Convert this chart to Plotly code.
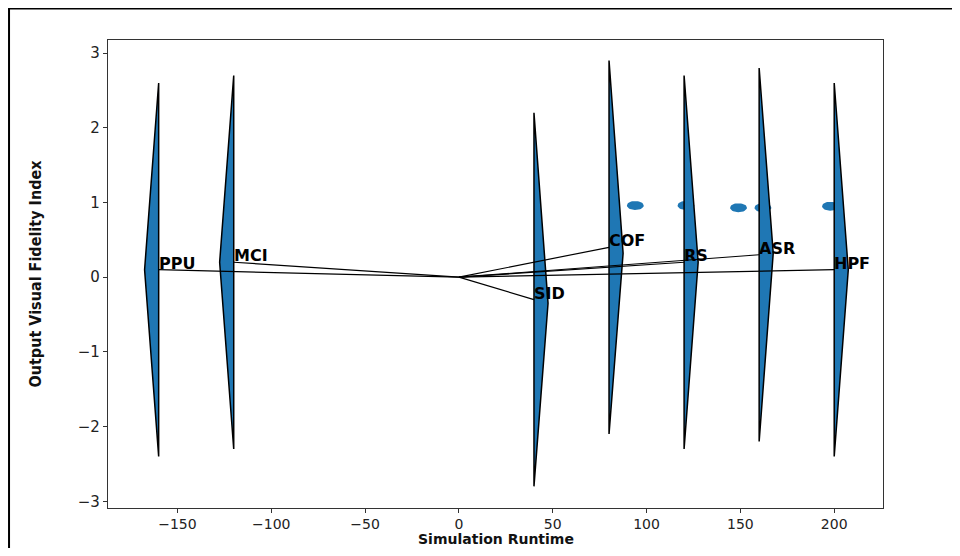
import numpy as np
import plotly.graph_objects as go

# ---- data ----
names = ["PPU", "MCI", "SID", "COF", "RS", "ASR", "HPF"]
runtime = [-160, -120, 40, 80, 120, 160, 200]
fidelity = [0.1, 0.2, -0.3, 0.4, 0.2, 0.3, 0.1]
violin_top = [2.6, 2.7, 2.2, 2.9, 2.7, 2.8, 2.6]
violin_bottom = [-2.4, -2.3, -2.8, -2.1, -2.3, -2.2, -2.4]
violin_peak = [0.1, 0.2, -0.35, 0.32, 0.2, 0.32, 0.1]

dot_x = [94, 121, 149, 162, 198]
dot_y = [0.96, 0.96, 0.93, 0.93, 0.95]

x_ticks = [-150, -100, -50, 0, 50, 100, 150, 200]
y_ticks = [-3, -2, -1, 0, 1, 2, 3]

BLUE = "#1f77b4"
BULGE = 7.5        # half-violin width (style)
DOT_RX, DOT_RY = 4.5, 0.06

fig = go.Figure()

# dots (drawn first, beneath the violins)
t = np.linspace(0, 2 * np.pi, 40)
ex, ey = [], []
for cx, cy in zip(dot_x, dot_y):
    ex += list(cx + DOT_RX * np.cos(t)) + [None]
    ey += list(cy + DOT_RY * np.sin(t)) + [None]
fig.add_trace(go.Scatter(x=ex, y=ey, mode="lines", fill="toself",
                         fillcolor=BLUE, line=dict(width=0, color=BLUE),
                         hoverinfo="skip", showlegend=False))

# half-violin shapes
for x, top, bot, pk in zip(runtime, violin_top, violin_bottom, violin_peak):
    d = -1 if x < 0 else 1
    fig.add_trace(go.Scatter(
        x=[x, x + d * BULGE, x, x], y=[top, pk, bot, top],
        mode="lines", fill="toself", fillcolor=BLUE,
        line=dict(color="black", width=1.5), hoverinfo="skip",
        showlegend=False))

# lines from origin
for x, y in zip(runtime, fidelity):
    fig.add_trace(go.Scatter(x=[0, x], y=[0, y], mode="lines",
                             line=dict(color="black", width=1.2),
                             hoverinfo="skip", showlegend=False))

# labels
for n, x, y in zip(names, runtime, fidelity):
    fig.add_annotation(x=x, y=y, text=n, showarrow=False,
                       xanchor="left", yanchor="bottom", yshift=-5, xshift=-2,
                       font=dict(family="DejaVu Sans", size=16, color="black",
                                 weight="bold"))

# x-axis title placed as an annotation for exact positioning
fig.add_annotation(xref="paper", yref="paper", x=0.5, y=-0.0662,
                   xanchor="center", yanchor="middle", showarrow=False,
                   text="Simulation Runtime", borderpad=0,
                   font=dict(family="DejaVu Sans", size=14, color="#111",
                             weight="bold"))

# figure border (partially outside the canvas as in the reference)
fig.add_shape(type="rect", xref="paper", yref="paper",
              x0=-0.1277, x1=1.2, y0=-0.2, y1=1.0673,
              line=dict(color="black", width=2))

fig.update_layout(
    width=944, height=540,
    margin=dict(l=100, r=69, t=32, b=40),
    paper_bgcolor="white", plot_bgcolor="white",
    font=dict(family="DejaVu Sans", color="#222"),
    showlegend=False,
)
fig.update_xaxes(
    range=[-187, 226], tickvals=x_ticks, ticks="outside", ticklen=3.5,
    tickcolor="#333", showline=True, linecolor="#333", linewidth=1.3,
    mirror=True, showgrid=False, zeroline=False,
    tickfont=dict(size=14, color="#222"),
    automargin=False,
)
fig.update_yaxes(
    range=[-3.09, 3.175], tickvals=y_ticks, ticks="outside", ticklen=4,
    tickcolor="#333", showline=True, linecolor="#333", linewidth=1.3,
    mirror=True, showgrid=False, zeroline=False,
    tickfont=dict(size=15, color="#222"),
    title=dict(text="Output Visual Fidelity Index", standoff=32,
               font=dict(family="Liberation Sans Narrow, DejaVu Sans Condensed, Liberation Sans",
                         size=16, color="#111", weight="bold")),
    automargin=False,
)

fig.write_html("out.html")
